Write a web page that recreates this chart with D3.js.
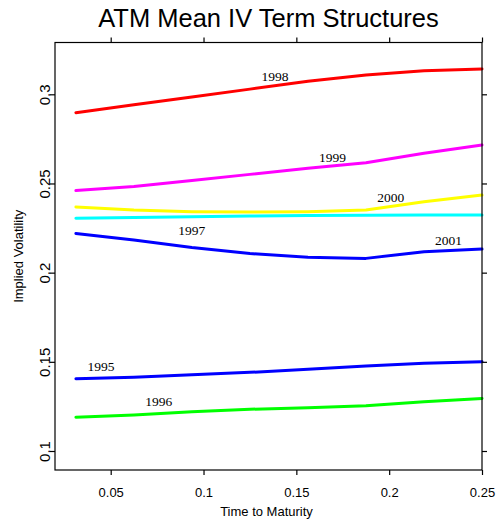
<!DOCTYPE html>
<html>
<head>
<meta charset="utf-8">
<script src="https://cdn.jsdelivr.net/npm/d3@7/dist/d3.min.js"></script>
<style>
  body { margin: 0; background: #fff; }
  svg { display: block; }
</style>
</head>
<body>
<svg id="chart" width="499" height="526"></svg>
<script>
// Time to maturity in years (1/32 steps up to a quarter)
const maturities = [0.03125, 0.0625, 0.09375, 0.125, 0.15625, 0.1875, 0.21875, 0.25];

// Mean at-the-money implied volatility per year
const years = ["1995", "1996", "1997", "1998", "1999", "2000", "2001"];
const iv1995 = [0.1405, 0.1413, 0.1428, 0.1441, 0.1458, 0.1477, 0.1492, 0.1501];
const iv1996 = [0.1189, 0.1202, 0.1220, 0.1234, 0.1243, 0.1254, 0.1276, 0.1295];
const iv1997 = [0.2305, 0.2309, 0.2314, 0.2318, 0.2320, 0.2322, 0.2323, 0.2323];
const iv1998 = [0.2897, 0.2941, 0.2985, 0.3029, 0.3073, 0.3108, 0.3132, 0.3142];
const iv1999 = [0.2460, 0.2483, 0.2517, 0.2551, 0.2585, 0.2616, 0.2670, 0.2716];
const iv2000 = [0.2368, 0.2351, 0.2342, 0.2340, 0.2342, 0.2351, 0.2398, 0.2435];
const iv2001 = [0.2220, 0.2183, 0.2141, 0.2107, 0.2086, 0.2080, 0.2117, 0.2132];
const ivByYear = [iv1995, iv1996, iv1997, iv1998, iv1999, iv2000, iv2001];
const yearColors = ["#0000ff", "#00ff00", "#00ffff", "#ff0000", "#ff00ff", "#ffff00", "#0000ff"];

// Where each year's name sits on the chart, in data units (maturity, volatility)
const labelMaturity = [0.0448, 0.0759, 0.0937, 0.1385, 0.1695, 0.2008, 0.2320];
const labelLevel    = [0.1450, 0.1252, 0.2211, 0.3076, 0.2622, 0.2398, 0.2155];

// Axis ticks
const xTicks = [0.05, 0.1, 0.15, 0.2, 0.25];
const xTickLabels = ["0.05", "0.1", "0.15", "0.2", "0.25"];
const yTicks = [0.1, 0.15, 0.2, 0.25, 0.3];
const yTickLabels = ["0.1", "0.15", "0.2", "0.25", "0.3"];

const svg = d3.select("#chart");
const sans = "'Liberation Sans', Arial, Helvetica, sans-serif";
const serif = "'Liberation Serif', 'Times New Roman', serif";

const plot = { left: 55, right: 482, top: 42.5, bottom: 470 };

const x = d3.scaleLinear().domain([0.02, 0.25]).range([plot.left, plot.right]);
const y = d3.scaleLinear().domain([0.1, 0.3]).range([451, 94.3]);

// Title
svg.append("text")
  .attr("x", (plot.left + plot.right) / 2)
  .attr("y", 26.7)
  .attr("text-anchor", "middle")
  .attr("font-family", sans)
  .attr("font-size", 25.5)
  .attr("fill", "#000")
  .text("ATM Mean IV Term Structures");

// Series lines
const line = d3.line()
  .x((d, i) => x(maturities[i]))
  .y(d => y(d));

const seriesG = svg.append("g");
ivByYear.forEach((vals, k) => {
  seriesG.append("path")
    .datum(vals)
    .attr("d", line)
    .attr("fill", "none")
    .attr("stroke", yearColors[k])
    .attr("stroke-width", 3)
    .attr("stroke-linejoin", "round")
    .attr("stroke-linecap", "round");
});

// Year labels
svg.append("g").selectAll("text")
  .data(years)
  .join("text")
  .attr("x", (d, i) => x(labelMaturity[i]))
  .attr("y", (d, i) => y(labelLevel[i]))
  .attr("text-anchor", "middle")
  .attr("font-family", serif)
  .attr("font-size", 13.5)
  .attr("fill", "#000")
  .text(d => d);

// Frame
svg.append("rect")
  .attr("x", plot.left)
  .attr("y", plot.top)
  .attr("width", plot.right - plot.left)
  .attr("height", plot.bottom - plot.top)
  .attr("fill", "none")
  .attr("stroke", "#000")
  .attr("stroke-width", 1.2);

function styleAxis(g) {
  g.select(".domain").remove();
  g.selectAll(".tick line").attr("stroke", "#000").attr("stroke-width", 1.2);
}

// Bottom axis
svg.append("g")
  .attr("transform", `translate(0,${plot.bottom})`)
  .call(d3.axisBottom(x).tickValues(xTicks).tickFormat((d, i) => xTickLabels[i]).tickSize(5).tickPadding(12))
  .call(styleAxis)
  .call(g => g.selectAll("text")
    .attr("font-family", sans).attr("font-size", 13).attr("fill", "#000")
    .attr("y", 26.7).attr("dy", 0));

// Top axis (ticks only)
svg.append("g")
  .attr("transform", `translate(0,${plot.top})`)
  .call(d3.axisTop(x).tickValues(xTicks).tickFormat("").tickSize(5))
  .call(styleAxis);

// Left axis with rotated labels
svg.append("g")
  .attr("transform", `translate(${plot.left},0)`)
  .call(d3.axisLeft(y).tickValues(yTicks).tickFormat((d, i) => yTickLabels[i]).tickSize(5))
  .call(styleAxis)
  .call(g => g.selectAll("text")
    .attr("font-family", sans).attr("font-size", 15).attr("fill", "#000")
    .attr("transform", "rotate(-90)")
    .attr("x", 0).attr("y", -5.5).attr("dy", 0)
    .attr("text-anchor", "middle"));

// Right axis (ticks only)
svg.append("g")
  .attr("transform", `translate(${plot.right},0)`)
  .call(d3.axisRight(y).tickValues(yTicks).tickFormat("").tickSize(5))
  .call(styleAxis);

// Axis titles
svg.append("text")
  .attr("x", (plot.left + plot.right) / 2 - 2)
  .attr("y", 516)
  .attr("text-anchor", "middle")
  .attr("font-family", sans)
  .attr("font-size", 13)
  .attr("fill", "#000")
  .text("Time to Maturity");

svg.append("text")
  .attr("transform", `translate(23,${(plot.top + plot.bottom) / 2}) rotate(-90)`)
  .attr("text-anchor", "middle")
  .attr("font-family", sans)
  .attr("font-size", 13)
  .attr("fill", "#000")
  .text("Implied Volatility");
</script>
</body>
</html>
